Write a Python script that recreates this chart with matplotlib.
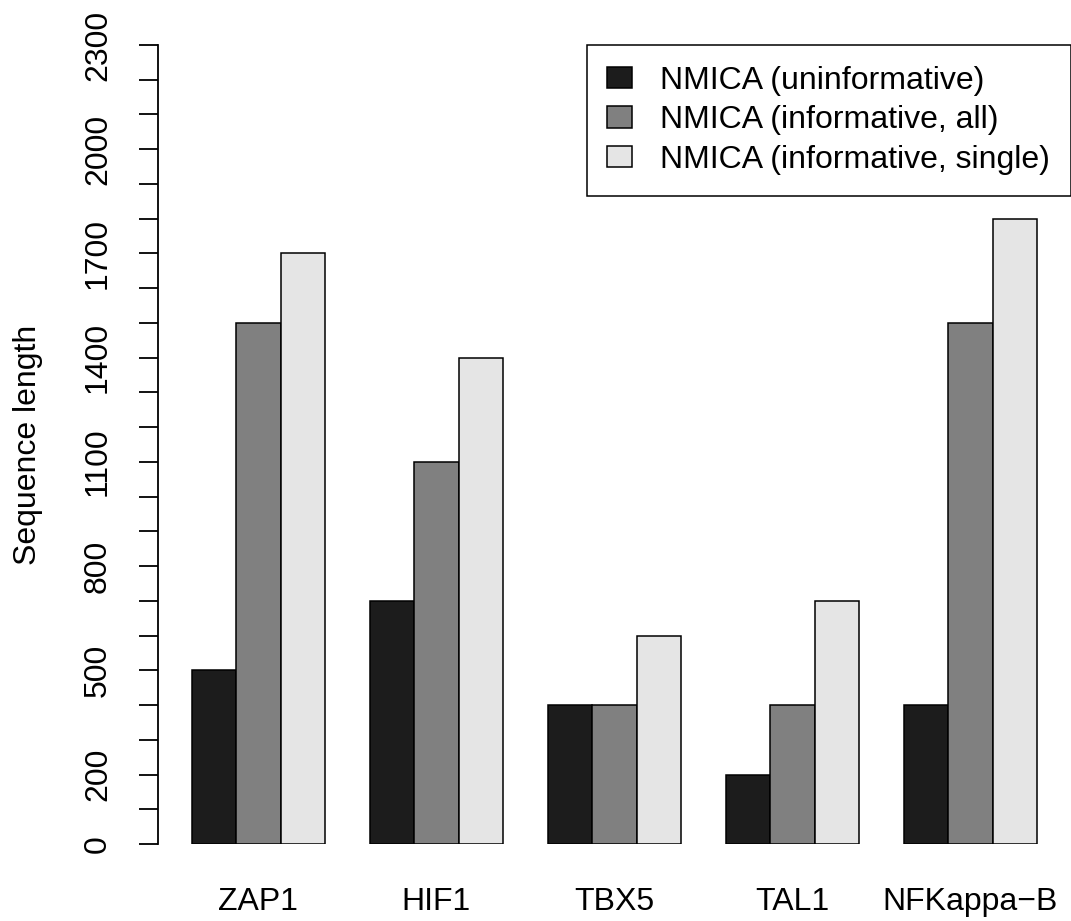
import matplotlib
matplotlib.use("Agg")
import matplotlib.pyplot as plt
import numpy as np

plt.rcParams['font.family'] = ['Liberation Sans', 'DejaVu Sans']

groups = ['ZAP1', 'HIF1', 'TBX5', 'TAL1', 'NFKappa\u2212B']
series_names = ['NMICA (uninformative)', 'NMICA (informative, all)', 'NMICA (informative, single)']
uninformative = [500, 700, 400, 200, 400]
informative_all = [1500, 1100, 400, 400, 1500]
informative_single = [1700, 1400, 600, 700, 1800]
colors = ['#1c1c1c', '#808080', '#e5e5e5']
ytick_vals = list(range(0, 2301, 100))
ytick_labels = ['0', '200', '500', '800', '1100', '1400', '1700', '2000', '2300']

W, H = 1071, 921
fig = plt.figure(figsize=(W / 100, H / 100), dpi=100)
ax = fig.add_axes([157.8 / W, (H - 844) / H, 1 - 157.8 / W, (844 - 45) / H])

series = [uninformative, informative_all, informative_single]
idx = np.arange(len(groups))
for j, vals in enumerate(series):
    x = 1 + idx * 4 + j + 0.5
    ax.bar(x, vals, width=1.0, color=colors[j], edgecolor='black', linewidth=1.1,
           label=series_names[j])

ax.set_xlim(0.24, 20.76)
ax.set_ylim(0, 2300)
ax.set_xticks(1 + idx * 4 + 1.5)
ax.set_xticklabels(groups, fontsize=23)
ax.tick_params(axis='x', length=0, pad=31)

ax.set_yticks(ytick_vals)
ax.set_yticklabels([str(v) if str(v) in ytick_labels else '' for v in ytick_vals],
                   rotation=90, va='center', fontsize=23)
ax.tick_params(axis='y', length=13.7, width=1.3, pad=18.5)

for s in ['top', 'right', 'bottom']:
    ax.spines[s].set_visible(False)
ax.spines['left'].set_linewidth(1.3)

fig.text(28 / W, 1 - 444.5 / H, 'Sequence length', rotation=90, ha='center', va='center',
         fontsize=23)

leg = ax.legend(loc='upper right', bbox_to_anchor=(1, 1), borderaxespad=0, fontsize=23,
                frameon=True, fancybox=False, edgecolor='black', framealpha=1,
                handlelength=0.78, handleheight=0.66, handletextpad=0.88,
                borderpad=0.65, labelspacing=0.3)
leg.get_frame().set_linewidth(1.1)

fig.savefig('out.png', dpi=100)
